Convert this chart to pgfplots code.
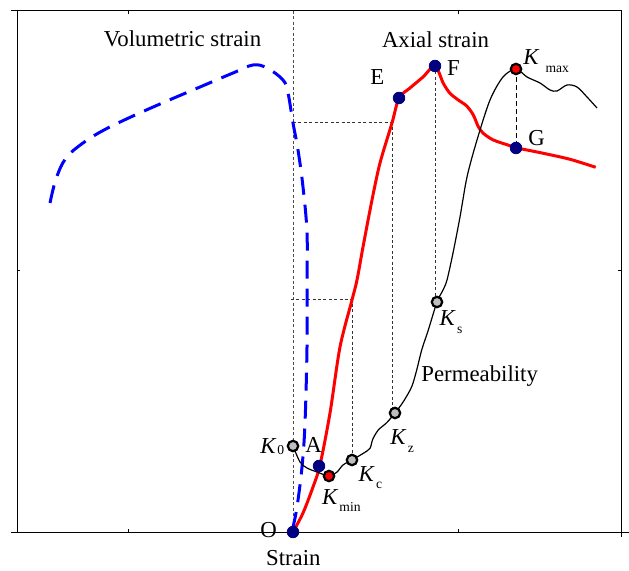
\documentclass[border=0pt]{standalone}
\usepackage{pgfplots}
\pgfplotsset{compat=1.18}
\usepackage{fontspec}
\setmainfont{Liberation Serif}
\definecolor{navyb}{RGB}{0,0,128}
\definecolor{kgrey}{RGB}{190,190,190}
\newcommand\fs{\fontsize{11.4bp}{13bp}\selectfont}
\newcommand\Ksub[3][3.8bp]{\textit{K}\hspace{#3}\raisebox{-#1}{\fontsize{6.8bp}{7bp}\selectfont #2}}
\begin{document}
\begin{tikzpicture}
\begin{axis}[
  at={(0,0)}, anchor=south west,
  scale only axis, width=302bp, height=260.5bp,
  xmin=17, xmax=621, ymin=39, ymax=560,
  xtick={128,458}, ytick={300}, xticklabels={}, yticklabels={},
  tick align=inside, major tick length=1.5bp,
  tick style={black, line width=0.5bp},
  axis line style={line width=0.5bp},
  clip=false,
]
% guide lines
\addplot[black!70, line width=0.5bp, dash pattern=on 1.5bp off 1.2bp] coordinates {(293,560) (293,39)};
\addplot[black!80, line width=0.5bp, dash pattern=on 1.5bp off 1.2bp] coordinates {(293,448) (392,448) (392,163)};
\addplot[black!80, line width=0.5bp, dash pattern=on 1.5bp off 1.2bp] coordinates {(291,271) (352,271) (352,116)};
\addplot[black!80, line width=0.5bp, dash pattern=on 1.5bp off 1.2bp] coordinates {(435,505) (435,274)};
\addplot[black, line width=0.5bp, dash pattern=on 2.5bp off 1.5bp] coordinates {(516,502) (516,423)};
% volumetric strain
\addplot[blue, line width=1.5bp, dash pattern=on 9bp off 5bp, smooth, tension=0.6] coordinates {
(50,368) (56,392) (66,413) (83,428) (104,441) (133,455) (167,470) (200,484) (233,498) (253,506)
(267,503) (283,491) (288,478) (293,448) (298,421) (303,384) (307,338) (307,284) (307,224)
(305,148) (302,104) (297,64) (293,44)};
% axial strain
\addplot[red, line width=1.5bp, smooth, tension=0.5] coordinates {
(293,39) (303,58) (313,84) (320,106) (330,158) (340,224) (352,271) (357,291) (363,324) (372,371)
(380,408) (392,448) (399,473) (410,483) (423,494) (435,505) (443.3,487.7) (450,477.7) (458.3,471)
(466.7,465) (473.3,456) (478.3,444.3) (483.3,437.7) (493.3,431) (510,425.3) (515.7,423.3)
(543.3,417.7) (570,411.7) (595.7,403.7)};
% permeability
\addplot[black, line width=0.6bp, smooth, tension=0.5] coordinates {
(293,125) (300,109) (307,103) (317,99) (329,95) (337,99) (343,106) (352,111) (363.3,117.7)
(370,122.7) (372.7,131.7) (378.3,141) (386.7,148.3) (395,158) (403.3,169.3) (411.7,184.3)
(416.7,201) (421.7,221) (428.3,241) (437,269) (443,281) (447,291) (453,318) (460,354) (467,394)
(477,431) (490,471) (503,494) (516,502) (527,494) (540,488) (550,481) (557,480) (567,486)
(577,484) (587,474) (597,463)};
% markers
\addplot[only marks, mark=*, mark size=2.9bp, mark options={fill=navyb, draw=navyb}] coordinates {
(293,39) (319,105) (399,473) (435,505) (516,423)};
\addplot[only marks, mark=*, mark size=2.6bp, mark options={fill=kgrey, draw=black, line width=1.1bp}] coordinates {
(293,125) (352,111) (395,158) (437,269)};
\addplot[only marks, mark=*, mark size=2.6bp, mark options={fill=red, draw=black, line width=1.1bp}] coordinates {
(329,95) (516,502)};
% labels
\node[anchor=base, inner sep=0, font=\fs] at (axis cs:182.5,524) {Volumetric strain};
\node[anchor=base, inner sep=0, font=\fs] at (axis cs:435.5,523) {Axial strain};
\node[anchor=base west, inner sep=0, font=\fs] at (axis cs:370,486) {E};
\node[anchor=base west, inner sep=0, font=\fs] at (axis cs:446.7,495) {F};
\node[anchor=base west, inner sep=0, font=\fs] at (axis cs:528,425) {G};
\node[anchor=base west, inner sep=0, font=\fs] at (axis cs:523,506) {\Ksub{max}{3bp}};
\node[anchor=base west, inner sep=0, font=\fs] at (axis cs:439.3,245) {\Ksub{s}{0.6bp}};
\node[anchor=base west, inner sep=0, font=\fs] at (axis cs:421,189) {Permeability};
\node[anchor=base west, inner sep=0, font=\fs] at (axis cs:390,126) {\Ksub{z}{0.6bp}};
\node[anchor=base west, inner sep=0, font=\fs] at (axis cs:358.3,90) {\Ksub{c}{0.6bp}};
\node[anchor=base west, inner sep=0, font=\fs] at (axis cs:321.7,66.7) {\Ksub{min}{0.6bp}};
\node[anchor=base west, inner sep=0, font=\fs] at (axis cs:260,117.7) {\Ksub[0.8bp]{0}{0.4bp}};
\node[anchor=base west, inner sep=0, font=\fs] at (axis cs:305,118) {A};
\node[anchor=base west, inner sep=0, font=\fs] at (axis cs:260,34) {O};
\node[anchor=base west, inner sep=0, font=\fs] at (axis cs:265.7,6) {Strain};
\end{axis}
\draw[line width=0.5bp] (-3bp,260.5bp) -- (0,260.5bp);
\draw[line width=0.5bp] (-3bp,0) -- (0,0);
\draw[line width=0.5bp] (302bp,0) -- (306bp,0);
\draw[line width=0.5bp] (302bp,0) -- (302bp,-2.5bp);
\pgfresetboundingbox
\path (-8.5bp,-19.5bp) rectangle (306bp,266bp);
\end{tikzpicture}
\end{document}
